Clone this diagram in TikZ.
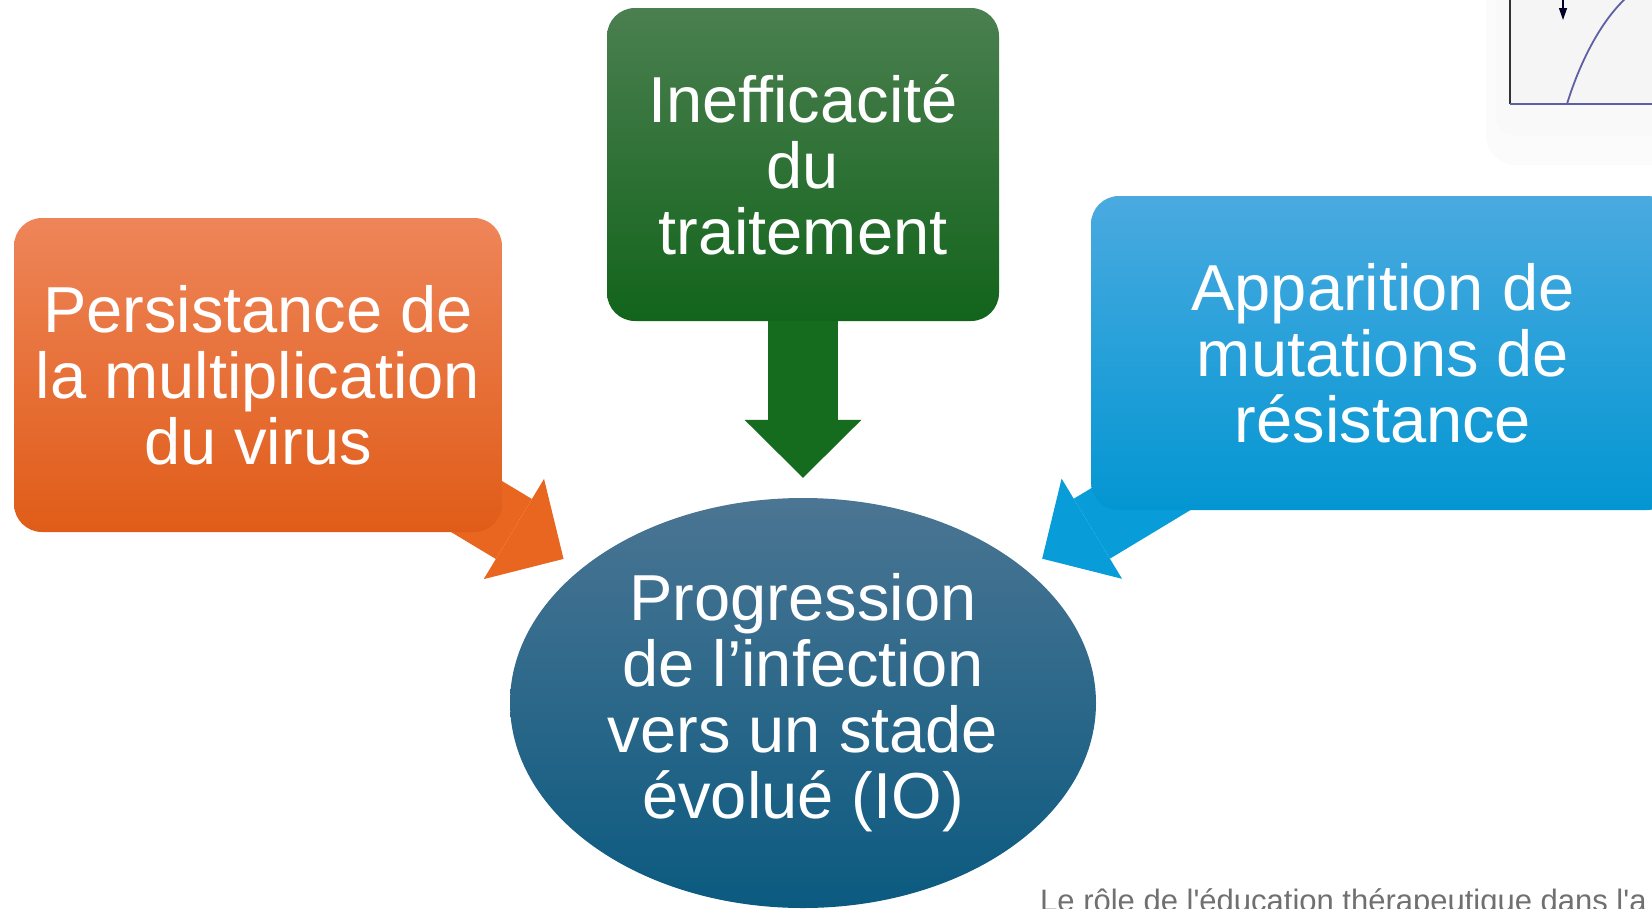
\documentclass[tikz,border=0pt]{standalone}
\usepackage{fontspec}
\setmainfont{Liberation Sans}
\newfontfamily\notefont{Liberation Sans}
\usetikzlibrary{arrows.meta,shapes.geometric,backgrounds}
\definecolor{orangetop}{HTML}{EE8559}
\definecolor{orangebot}{HTML}{E05C18}
\definecolor{orangearrow}{HTML}{E8661F}
\definecolor{greentop}{HTML}{4B7F50}
\definecolor{greenbot}{HTML}{12641B}
\definecolor{greenarrow}{HTML}{156B1E}
\definecolor{bluetop}{HTML}{4AAAE0}
\definecolor{bluebot}{HTML}{0396D2}
\definecolor{bluearrow}{HTML}{089CD8}
\definecolor{progtop}{HTML}{4B7593}
\definecolor{progbot}{HTML}{0B5A80}
\definecolor{plotline}{HTML}{5F5FA3}
\definecolor{notegray}{HTML}{707070}
\tikzset{
  causebox/.style={rounded corners=28pt, text=white, align=center, inner sep=0pt,
    font=\fontsize{65}{66}\selectfont},
  fatarrow/.style={line width=70pt, -{Triangle[length=58pt,width=117pt,line width=0pt]},
    shorten >=20pt}
}
\begin{document}
\begin{tikzpicture}[x=1pt,y=-1pt]
\useasboundingbox (0,0) rectangle (1652,908);

% bit of a figure at the top right
\fill[black!1.5, rounded corners=30pt] (1486,-30) rectangle (1690,165);
\fill[black!2.5, rounded corners=20pt] (1496,-20) rectangle (1680,135);
\fill[black!4] (1510,0) rectangle (1652,104);
\draw[black!80, line width=1.5pt] (1510,-2) -- (1510,104);
\draw[plotline, line width=2pt] (1510,104) -- (1652,104);
\draw[plotline, line width=1.8pt] (1567,104) .. controls (1578,68) and (1598,24) .. (1626,-2);
\draw[black!85!blue, line width=1.2pt, -{Triangle[length=12pt,width=8pt]}] (1563,-2) -- (1563,20);

\node[causebox, minimum width=488pt, minimum height=314pt, top color=orangetop, bottom color=orangebot] (persist) at (258,375) {Persistance de\\la multiplication\\du virus};
\node[causebox, minimum width=392pt, minimum height=313pt, top color=greentop, bottom color=greenbot] (ineff) at (803,164.5) {Inefficacité\\du\\traitement};
\node[causebox, minimum width=584pt, minimum height=314pt, top color=bluetop, bottom color=bluebot] (mutat) at (1383,353) {Apparition de\\mutations de\\résistance};
\node[ellipse, minimum width=586pt, minimum height=410pt, inner sep=0pt, text=white, align=center,
  top color=progtop, bottom color=progbot, font=\fontsize{65}{66}\selectfont] (prog) at (803,703) {Progression\\de l’infection\\vers un stade\\évolué (IO)};

\begin{scope}[on background layer]
\draw[fatarrow, draw=orangearrow] (persist.center) -- (prog);
\draw[fatarrow, draw=greenarrow] (ineff.center) -- (prog);
\draw[fatarrow, draw=bluearrow] (mutat.center) -- (prog);
\end{scope}

\node[anchor=base west, inner sep=0pt, text=notegray, font=\notefont\fontsize{31}{36}\selectfont] (note) at (1040,911) {Le rôle de l\textquotesingle éducation thérapeutique dans l\textquotesingle a};
\end{tikzpicture}
\end{document}
